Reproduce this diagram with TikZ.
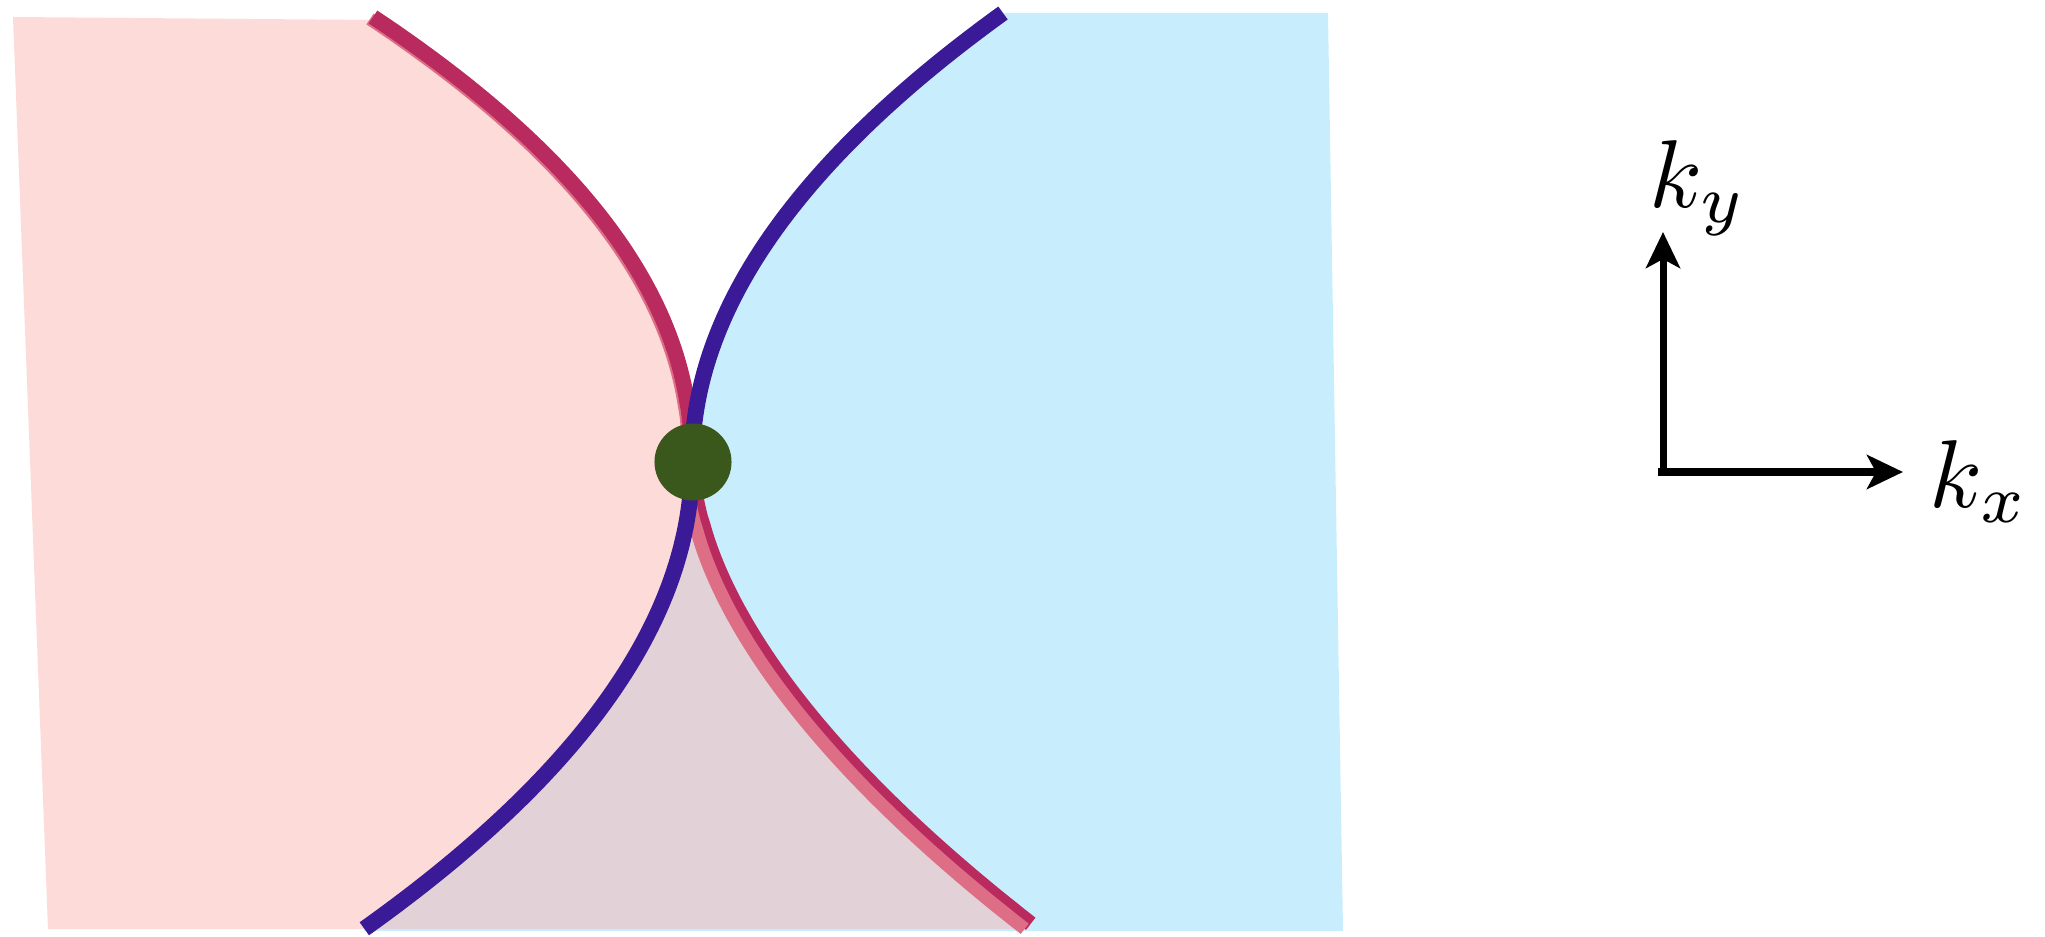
\documentclass[tikz,border=0pt]{standalone}
\usetikzlibrary{arrows.meta}
\definecolor{pinkfill}{RGB}{253,219,216}
\definecolor{bluefill}{RGB}{200,238,253}
\definecolor{mauvefill}{RGB}{226,210,215}
\definecolor{darkred}{RGB}{185,43,94}
\definecolor{lightred}{RGB}{221,110,133}
\definecolor{bandblue}{RGB}{58,26,150}
\definecolor{dotgreen}{RGB}{58,88,28}
\tikzset{
  redmain/.style={draw=darkred, line width=0.155cm},
  redshade/.style={draw=lightred, line width=0.13cm},
  blueband/.style={draw=bandblue, line width=0.16cm},
  axisarrow/.style={draw=black, line width=0.07cm, -{Stealth[length=0.36cm, width=0.34cm, inset=0.09cm]}},
  axislabel/.style={inner sep=0pt, scale=2.74},
  pt/.style={samples=60, variable=\t}
}
\begin{document}
\begin{tikzpicture}[x=0.01cm, y=-0.01cm]
\useasboundingbox (0,0) rectangle (2045,937);

% pink region
\fill[pinkfill] (13,17) -- (373,20)
  -- plot[pt, domain=1:0.02] ({692-319*\t^2.1},{462-445*\t}) -- (692,462)
  -- plot[pt, domain=0.02:1] ({692+339*\t^1.75},{462+462*\t})
  -- (1031,929) -- (48,929) -- cycle;

% blue region
\fill[bluefill] (1003,13) -- (1328,13) -- (1343,931) -- (364,931)
  -- plot[pt, domain=1:0.02] ({692-328*\t^2},{462+467*\t}) -- (692,462)
  -- plot[pt, domain=0.02:1] ({692+311*\t^2},{462-449*\t}) -- cycle;

% overlap region
\fill[mauvefill] (692,462)
  -- plot[pt, domain=0.02:1] ({692-328*\t^2},{462+467*\t})
  -- (364,929) -- (1028,929)
  -- plot[pt, domain=1:0.02] ({692+339*\t^1.75},{462+462*\t}) -- cycle;

% red curve: light shade under the upper branch
\begin{scope}[shift={(-3,2)}]
\draw[redshade] plot[pt, domain=1:0.02] ({692-319*\t^2.1},{462-445*\t}) -- (692,462);
\end{scope}
% red curve: main line
\draw[redmain] plot[pt, domain=1:0.02] ({692-319*\t^2.1},{462-445*\t}) -- (692,462)
  -- plot[pt, domain=0.02:1] ({692+339*\t^1.75},{462+462*\t});
% red curve: light shade over the lower branch
\begin{scope}[shift={(-6,5)}]
\draw[redshade] (692,462) -- plot[pt, domain=0.02:1] ({692+339*\t^1.75},{462+462*\t});
\end{scope}

% blue curve
\draw[blueband] plot[pt, domain=1:0.02] ({692+311*\t^2},{462-449*\t}) -- (692,462)
  -- plot[pt, domain=0.02:1] ({692-328*\t^2},{462+467*\t});

% crossing point
\node[circle, fill=dotgreen, minimum size=0.77cm, inner sep=0pt] (dot) at (693,462) {};

% axes
\coordinate (origin) at (1663,472);
\coordinate (ytip) at (1663,232);
\coordinate (xtip) at (1903,472);
\coordinate (ystart) at (1663,476);
\coordinate (xstart) at (1658,472);
\draw[axisarrow] (ystart) -- (ytip);
\draw[axisarrow] (xstart) -- (xtip);
\node[axislabel, anchor=base west] (ky) at (1648,208) {$k_y$};
\node[axislabel, anchor=base west] (kx) at (1928,508) {$k_x$};
\end{tikzpicture}
\end{document}
